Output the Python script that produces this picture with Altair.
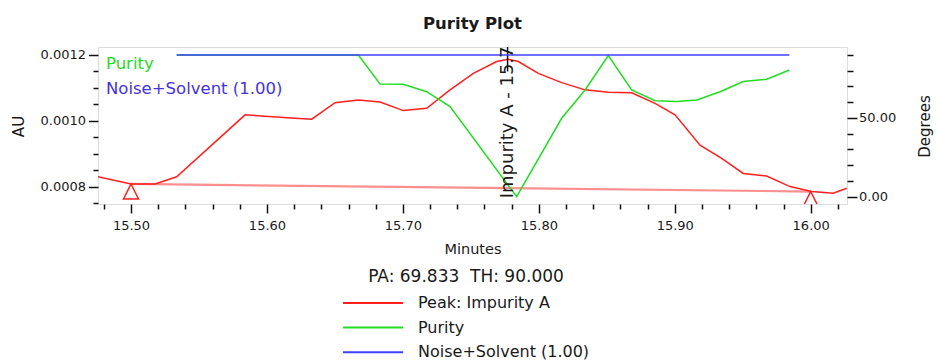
import altair as alt
import pandas as pd

FONT = "DejaVu Sans"
TXT = "#1a1a1a"
RED = "#ff1f1f"
GREEN = "#22dd22"
BLUE = "#4040ff"

# ---- data ----
peak_time = [15.4757, 15.500, 15.5177, 15.5336, 15.5839, 15.6206, 15.6329, 15.6501,
             15.6672, 15.6832, 15.7003, 15.7175, 15.7347, 15.7518, 15.7690, 15.7775,
             15.7849, 15.7996, 15.8168, 15.8340, 15.8511, 15.8683, 15.8855, 15.9002,
             15.9186, 15.9345, 15.9504, 15.9676, 15.9848, 16.0007, 16.0166, 16.0265]
peak_au = [0.000830, 0.000808, 0.000808, 0.000830, 0.001018, 0.001008, 0.001005, 0.001055,
           0.001063, 0.001057, 0.001031, 0.001038, 0.001094, 0.001144, 0.001180, 0.001187,
           0.001180, 0.001144, 0.001116, 0.001094, 0.001087, 0.001085, 0.001053, 0.001018,
           0.000926, 0.000886, 0.000840, 0.000832, 0.000800, 0.000785, 0.000780, 0.000795]

purity_time = [15.5336, 15.6672, 15.6832, 15.7003, 15.7175, 15.7347, 15.7837, 15.8168,
               15.8340, 15.8511, 15.8683, 15.8855, 15.9015, 15.9162, 15.9333, 15.9504,
               15.9676, 15.9843]
purity_deg = [90.0, 90.0, 71.6, 71.4, 66.7, 57.2, 0.0, 49.8,
              67.8, 89.6, 67.8, 61.0, 60.4, 61.4, 66.7, 73.1,
              74.6, 80.5]

noise_time = [15.5336, 15.9843]
noise_deg = [90.0, 90.0]

baseline_time = [15.500, 16.000]
baseline_au = [0.000808, 0.000785]

peak_apex_time = [15.777]
peak_marker_au = [0.00115]
peak_label = ["Impurity A - 15.777"]

series_names = ["Peak: Impurity A", "Purity", "Noise+Solvent (1.00)"]
series_colors = [RED, GREEN, BLUE]

x_ticks = [15.48, 15.50, 15.52, 15.54, 15.56, 15.58, 15.60, 15.62, 15.64, 15.66, 15.68,
           15.70, 15.72, 15.74, 15.76, 15.78, 15.80, 15.82, 15.84, 15.86, 15.88, 15.90,
           15.92, 15.94, 15.96, 15.98, 16.00, 16.02]
au_ticks = [0.00075, 0.0008, 0.00085, 0.0009, 0.00095, 0.0010, 0.00105, 0.0011, 0.00115, 0.0012]
deg_ticks = [0, 10, 20, 30, 40, 50, 60, 70, 80, 90]

legend_title = "PA: 69.833\u00a0 TH: 90.000"

# ---- tables ----
peak_df = pd.DataFrame({"t": peak_time, "au": peak_au, "series": series_names[0]})
purity_df = pd.DataFrame({"t": purity_time, "deg": purity_deg, "series": series_names[1]})
noise_df = pd.DataFrame({"t": noise_time, "deg": noise_deg, "series": series_names[2]})
base_df = pd.DataFrame({"t": baseline_time, "au": baseline_au})
marker_df = pd.DataFrame({"t": peak_apex_time, "au": peak_marker_au, "au2": [0.0012243],
                          "label": peak_label})

# ---- scales & axes ----
x_scale = alt.Scale(domain=[15.4757, 16.0267], nice=False, zero=False)
au_scale = alt.Scale(domain=[0.0007471, 0.0012243], nice=False, zero=False)
deg_scale = alt.Scale(domain=[-4.64, 95.08], nice=False, zero=False)
color_scale = alt.Scale(domain=series_names, range=series_colors)

x_major = "abs(datum.value*10 - round(datum.value*10)) < 0.001"
au_major = "round(datum.value*100000) % 20 == 0"
deg_major = "datum.value % 50 == 0"

x_axis = alt.Axis(
    title="Minutes", values=x_ticks, grid=False, domain=False,
    labelExpr=f"{x_major} ? format(datum.value, '.2f') : ''",
    tickSize={"condition": {"test": x_major, "value": 9}, "value": 5},
    tickColor="#111", tickWidth=1.5, labelPadding=6,
    labelFont=FONT, labelFontSize=13, labelColor=TXT,
    labelOverlap=False, labelFlush=False,
    titleFont=FONT, titleFontSize=14.5, titleFontWeight="normal", titleColor=TXT,
    titleY=45, titleBaseline="middle",
)
au_axis = alt.Axis(
    title="AU", orient="left", values=au_ticks, grid=False, domain=False,
    labelExpr=f"{au_major} ? format(datum.value, '.4f') : ''",
    tickSize={"condition": {"test": au_major, "value": 9.5}, "value": 5},
    tickColor="#111", tickWidth=1.5, labelPadding=3,
    labelFont=FONT, labelFontSize=13, labelColor=TXT, labelOverlap=False,
    titleFont=FONT, titleFontSize=15, titleFontWeight="normal", titleColor=TXT,
    titleX=-80, titleY=79, titleAngle=270, titleAlign="center", titleBaseline="middle",
)
deg_axis = alt.Axis(
    title="Degrees", orient="right", values=deg_ticks, grid=False, domain=False,
    labelExpr=f"{deg_major} ? format(datum.value, '.2f') : ''",
    tickSize={"condition": {"test": deg_major, "value": 10}, "value": 6},
    tickColor="#111", tickWidth=1.5, labelPadding=1.5,
    labelFont=FONT, labelFontSize=13, labelColor=TXT, labelOverlap=False,
    titleFont=FONT, titleFontSize=15, titleFontWeight="normal", titleColor=TXT,
    titleX=77, titleY=79, titleAngle=270, titleAlign="center", titleBaseline="middle",
)

legend = alt.Legend(
    orient="none", legendX=244, legendY=222, direction="vertical", padding=0,
    title=legend_title, titleFont=FONT, titleFontSize=17, titleFontWeight="normal",
    titleColor=TXT, titleAnchor="middle", titleLimit=500, titlePadding=9,
    symbolType="stroke", symbolSize=3600, symbolStrokeWidth=2, clipHeight=16,
    rowPadding=8.6, labelFont=FONT, labelFontSize=16, labelColor=TXT,
    labelLimit=500, labelOffset=14,
)

X = alt.X("t:Q", scale=x_scale, axis=x_axis)
Y_AU = alt.Y("au:Q", scale=au_scale, axis=au_axis)
Y_DEG = alt.Y("deg:Q", scale=deg_scale, axis=deg_axis)
COLOR = alt.Color("series:N", scale=color_scale, legend=legend)

# ---- left (AU) layers ----
peak_line = alt.Chart(peak_df).mark_line(strokeWidth=1.5, clip=True).encode(
    x=X, y=Y_AU, color=COLOR, order="t:Q")
base_line = alt.Chart(base_df).mark_line(strokeWidth=2.2, color=RED, opacity=0.5, clip=True).encode(
    x=X, y=Y_AU)
base_marks = alt.Chart(base_df).mark_point(
    shape="M0,0L0.5,1L-0.5,1Z", size=900, filled=False, color=RED,
    strokeWidth=1.5, opacity=1, clip=True).encode(x=X, y=Y_AU)
apex_rule = alt.Chart(marker_df).mark_rule(color="#111", strokeWidth=1.5).encode(
    x=X, y=Y_AU, y2="au2:Q")
left = alt.layer(peak_line, base_line, base_marks, apex_rule)

# ---- right (Degrees) layers ----
purity_line = alt.Chart(purity_df).mark_line(strokeWidth=1.5, clip=True).encode(
    x=X, y=Y_DEG, color=COLOR, order="t:Q")
noise_line = alt.Chart(noise_df).mark_line(strokeWidth=1.5, clip=True).encode(
    x=X, y=Y_DEG, color=COLOR, order="t:Q")
right = alt.layer(purity_line, noise_line)

# ---- annotations ----
apex_text = alt.Chart(marker_df).mark_text(
    angle=270, align="left", baseline="middle", font=FONT, fontSize=18,
    color=TXT, clip=True).encode(x=X, y=alt.value(151.3), text="label:N")
purity_tag = alt.Chart(pd.DataFrame({"label": [series_names[1]]})).mark_text(
    align="left", baseline="middle", font=FONT, fontSize=16.5, color=GREEN).encode(
    x=alt.value(8), y=alt.value(17), text="label:N")
noise_tag = alt.Chart(pd.DataFrame({"label": [series_names[2]]})).mark_text(
    align="left", baseline="middle", font=FONT, fontSize=16.5, color="#4433dd").encode(
    x=alt.value(8), y=alt.value(42), text="label:N")

chart = alt.layer(left, right, apex_text, purity_tag, noise_tag).resolve_scale(
    y="independent"
).properties(
    width=749, height=157,
    autosize=alt.AutoSizeParams(type="none"),
    padding={"left": 98, "top": 47, "right": 90, "bottom": 157},
    title=alt.TitleParams("Purity Plot", font=FONT, fontSize=16.5, fontWeight="bold",
                          color=TXT, anchor="middle", frame="group",
                          baseline="alphabetic", offset=1),
).configure_view(stroke="#111", strokeWidth=2).configure(background="white")

chart.save("out.html", embed_options={"renderer": "svg", "actions": False})
